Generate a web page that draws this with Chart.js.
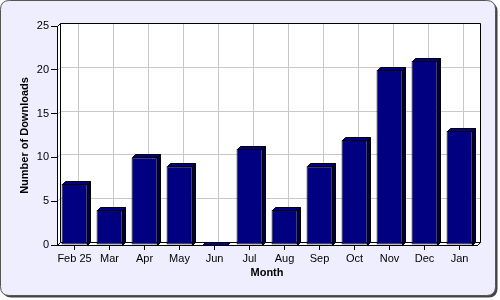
<!DOCTYPE html>
<html>
<head>
<meta charset="utf-8">
<script src="https://cdn.jsdelivr.net/npm/chart.js@4"></script>
<style>
  html, body { margin: 0; padding: 0; background: #fff; }
  #wrap { width: 500px; height: 300px; }
</style>
</head>
<body>
<div id="wrap"><canvas id="graph" width="500" height="300"></canvas></div>
<script>
// data
const months = ["Feb 25", "Mar", "Apr", "May", "Jun", "Jul", "Aug", "Sep", "Oct", "Nov", "Dec", "Jan"];
const downloads = [7, 4, 10, 9, 0, 11, 4, 9, 12, 20, 21, 13];
const yTicks = [0, 5, 10, 15, 20, 25];

const DEPTH = 3;
const FONT = "'Liberation Sans', Arial, sans-serif";

function roundRect(ctx, x, y, w, h, r) {
  ctx.beginPath();
  ctx.moveTo(x + r, y);
  ctx.lineTo(x + w - r, y);
  ctx.quadraticCurveTo(x + w, y, x + w, y + r);
  ctx.lineTo(x + w, y + h - r);
  ctx.quadraticCurveTo(x + w, y + h, x + w - r, y + h);
  ctx.lineTo(x + r, y + h);
  ctx.quadraticCurveTo(x, y + h, x, y + h - r);
  ctx.lineTo(x, y + r);
  ctx.quadraticCurveTo(x, y, x + r, y);
  ctx.closePath();
}

function poly(ctx, pts, fill, stroke) {
  ctx.beginPath();
  ctx.moveTo(pts[0][0], pts[0][1]);
  for (let i = 1; i < pts.length; i++) ctx.lineTo(pts[i][0], pts[i][1]);
  ctx.closePath();
  if (fill) { ctx.fillStyle = fill; ctx.fill(); }
  if (stroke) { ctx.strokeStyle = stroke; ctx.lineWidth = 1; ctx.stroke(); }
}

// frame, back wall, floor and grid behind everything
const backdrop = {
  id: "backdrop",
  beforeDraw(chart) {
    const ctx = chart.ctx;
    const a = chart.chartArea;
    const d = DEPTH;
    const xs = chart.scales.x, ys = chart.scales.y;
    ctx.save();

    // outer panel with shadow
    roundRect(ctx, 2.5, 2.5, 495, 295, 9);
    ctx.fillStyle = "#444";
    ctx.fill();
    roundRect(ctx, 0.5, 0.5, 495, 295, 9);
    ctx.fillStyle = "#eeeeff";
    ctx.fill();
    ctx.strokeStyle = "#555";
    ctx.lineWidth = 1;
    ctx.stroke();

    const L = Math.round(a.left) + 0.5, R = Math.round(a.right) + 0.5;
    const T = Math.round(a.top) + 0.5, B = Math.round(a.bottom) + 0.5;

    // interior white
    poly(ctx, [[L, T], [L + d, T - d], [R + d, T - d], [R + d, B - d], [R, B], [L, B]], "#fff");

    // grid on back wall
    ctx.strokeStyle = "#c8c8c8";
    ctx.lineWidth = 1;
    yTicks.forEach(v => {
      const y = Math.round(ys.getPixelForValue(v)) + 0.5;
      ctx.beginPath();
      ctx.moveTo(L, y);
      ctx.lineTo(L + d, y - d);
      ctx.lineTo(R + d, y - d);
      ctx.stroke();
    });
    months.forEach((m, i) => {
      const x = Math.round(xs.getPixelForValue(i)) + 0.5 + d;
      ctx.beginPath();
      ctx.moveTo(x, T - d);
      ctx.lineTo(x, B - d);
      ctx.stroke();
    });

    // walls outline
    ctx.strokeStyle = "#000";
    ctx.beginPath();
    ctx.moveTo(L, T); ctx.lineTo(L + d, T - d); ctx.lineTo(R + d, T - d);
    ctx.lineTo(R + d, B - d); ctx.lineTo(R, B);
    ctx.moveTo(L + d, T - d); ctx.lineTo(L + d, B - d); ctx.lineTo(R + d, B - d);
    ctx.moveTo(L, B - 0); ctx.lineTo(L + d, B - d);
    ctx.stroke();

    ctx.restore();
  },
  afterDatasetsDraw(chart) {
    const ctx = chart.ctx;
    const d = DEPTH;
    const meta = chart.getDatasetMeta(0);
    ctx.save();
    meta.data.forEach(bar => {
      const p = bar.getProps(["x", "y", "base", "width"], true);
      const x0 = Math.round(p.x - p.width / 2) + 0.5;
      const x1 = Math.round(p.x + p.width / 2) + 0.5;
      const top = Math.round(p.y) + 0.5;
      const base = Math.round(p.base) + 0.5;
      // side face
      if (base - top > 0) {
        poly(ctx, [[x1, top], [x1 + d, top - d], [x1 + d, base - d], [x1, base]], "#00003c", "#000");
      }
      // top face
      poly(ctx, [[x0, top], [x0 + d, top - d], [x1 + d, top - d], [x1, top]], "#000080", "#000");
    });
    ctx.restore();
  }
};

new Chart(document.getElementById("graph"), {
  type: "bar",
  data: {
    labels: months,
    datasets: [{
      label: "Downloads",
      data: downloads,
      backgroundColor: "#000080",
      borderColor: "#000",
      borderWidth: 1,
      borderSkipped: false,
      categoryPercentage: 1,
      barPercentage: 0.74
    }]
  },
  options: {
    responsive: false,
    animation: false,
    events: [],
    layout: { padding: { left: 0, top: 26, right: 23, bottom: 0 } },
    plugins: {
      legend: { display: false },
      tooltip: { enabled: false }
    },
    scales: {
      x: {
        afterFit(scale) { scale.height = 55; },
        grid: { offset: false, drawOnChartArea: false, drawTicks: true, tickLength: 5, color: "#000" },
        border: { display: true, color: "#000" },
        ticks: { color: "#000", padding: 2, font: { family: FONT, size: 11 }, maxRotation: 0, autoSkip: false },
        title: {
          display: true, text: "Month", color: "#000",
          font: { family: FONT, size: 11, weight: "bold" },
          padding: { top: 0, bottom: 20 }
        }
      },
      y: {
        min: 0, max: 25,
        afterFit(scale) { scale.width = 57; },
        afterBuildTicks(scale) { scale.ticks = yTicks.map(v => ({ value: v })); },
        grid: { drawOnChartArea: false, drawTicks: true, tickLength: 6, color: "#000" },
        border: { display: true, color: "#000" },
        ticks: { color: "#000", padding: 2, font: { family: FONT, size: 11 } },
        title: {
          display: true, text: "Number of Downloads", color: "#000",
          font: { family: FONT, size: 11, weight: "bold" },
          padding: { top: 18, bottom: 0 }
        }
      }
    }
  },
  plugins: [backdrop]
});
</script>
</body>
</html>
